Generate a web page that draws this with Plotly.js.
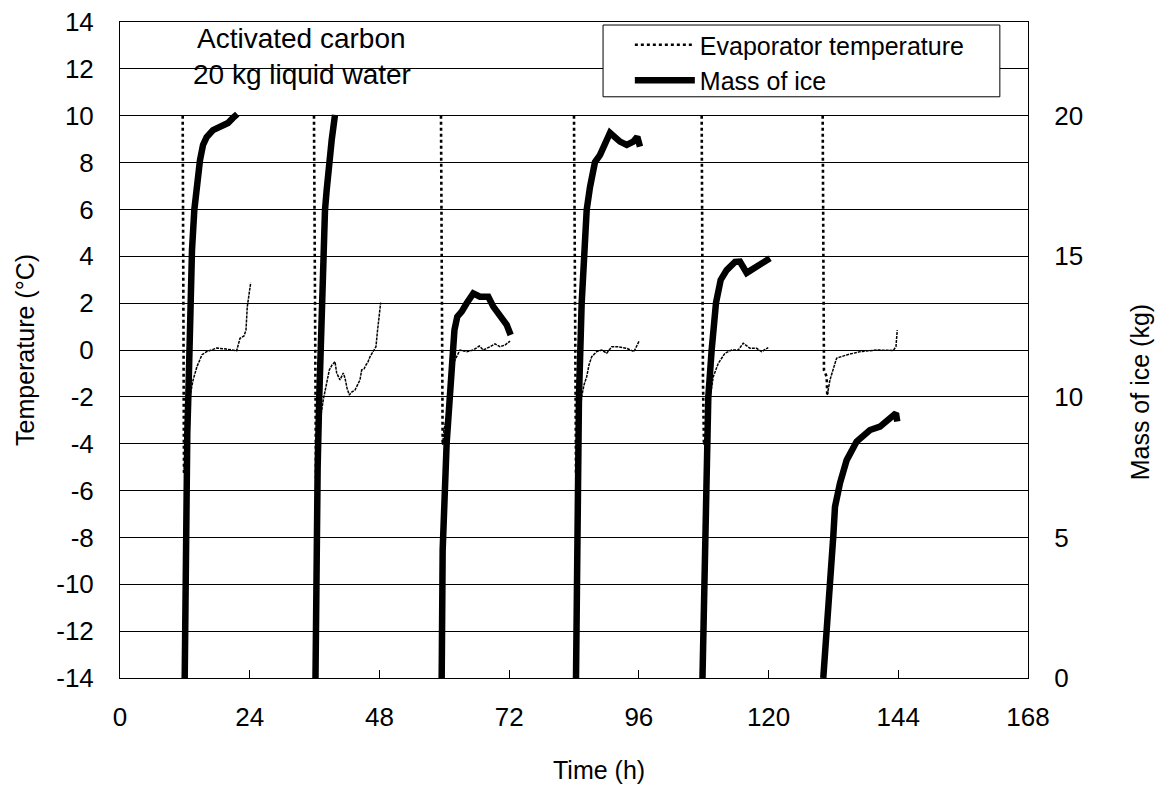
<!DOCTYPE html>
<html>
<head>
<meta charset="utf-8">
<script src="https://cdn.plot.ly/plotly-3.0.1.min.js"></script>
<style>html,body{margin:0;padding:0;background:#fff;}#chart{width:1169px;height:794px;}</style>
</head>
<body>
<div id="chart"></div>
<script>
// Evaporator temperature: steep drop at the start of each cycle (h, °C)
const evapDropTime = [11.60,11.66,11.75,11.84, null,
  35.89,35.95,36.08,36.17,36.26, null,
  59.39,59.48,59.57,59.70, null,
  84.00,84.09,84.18,84.37, null,
  107.62,107.68,107.86,108.05, null,
  130.01,130.07,130.16,130.25,130.75,130.86];
const evapDropTemp = [10.0,2.56,-2.1,-5.25, null,
  10.0,7.68,2.13,-2.13,-5.46, null,
  10.0,4.27,-1.28,-4.05, null,
  10.0,4.27,-1.28,-5.25, null,
  10.0,4.27,-1.28,-4.05, null,
  10.0,4.27,0.85,-0.85,-1.14,-1.92];

// Evaporator temperature: recovery towards the 0 °C plateau (h, °C)
const evapRecTime = [11.84,12.2,12.58,12.95,13.5,14.25,15.17,16.04,17.89,19.6,21.59,22.2,22.94,23.31,23.55,24.18, null,
  36.26,36.82,37.19,37.61,38.11,38.73,39.23,39.78,40.09,40.7,41.31,41.63,42.0,42.42,42.92,43.48,44.03,44.4,44.72,45.14,45.51,45.88,46.25,46.81,47.36,47.6,47.97,48.23, null,
  59.70,59.94,60.44,60.87,61.24,61.66,62.29,62.9,64.14,65.36,66.48,67.22,68.46,69.38,70.31,71.23,72.16, null,
  84.37,84.74,85.11,85.42,85.85,86.35,86.77,87.27,88.2,89.12,90.05,90.97,92.19,93.75,95.1,96.08, null,
  108.05,108.54,108.97,109.34,109.77,110.69,111.93,113.17,114.39,115.32,116.56,117.8,118.72,119.94, null,
  130.86,131.36,132.29,132.6,134.45,136.91,140.0,143.07,143.57,143.81];
const evapRecTemp = [-5.25,-3.8,-2.8,-2.0,-1.3,-0.7,-0.2,-0.07,0.08,0.04,-0.03,0.5,0.6,0.85,1.85,2.87, null,
  -5.46,-3.84,-2.77,-2.13,-1.49,-0.85,-0.64,-0.5,-0.98,-1.28,-0.98,-1.2,-1.62,-1.92,-1.79,-1.71,-1.45,-1.28,-0.85,-0.81,-0.64,-0.51,-0.29,-0.04,0.14,0.73,1.58,2.02, null,
  -4.05,-3.41,-2.85,-2.13,-1.28,-0.57,-0.29,0.0,-0.07,0.0,0.17,0.0,0.14,0.26,0.14,0.21,0.38, null,
  -5.25,-3.84,-2.77,-1.99,-1.49,-1.14,-0.64,-0.29,-0.07,0.0,-0.14,0.14,0.14,0.07,-0.07,0.4, null,
  -4.05,-3.27,-2.35,-1.71,-1.14,-0.57,-0.14,0.0,0.0,0.29,0.07,0.07,-0.07,0.1, null,
  -1.92,-1.28,-0.57,-0.35,-0.21,-0.07,0.0,-0.02,0.14,0.85];

// Mass of ice (h, kg)
const iceTime = [11.97,12.03,12.21,12.45,12.64,12.95,13.32,13.75,14.25,14.8,15.36,16.04,17.21,18.5,19.98,20.9,21.7, null,
  36.17,36.26,36.57,36.87,37.32,37.61,37.93,38.24,38.67,39.17,39.78, null,
  59.52,59.7,60.44,60.92,61.48,61.88,62.4,63.22,64.14,65.36,66.6,68.14,69.07,70.31,71.55,72.28, null,
  84.37,84.65,84.92,85.42,86.35,86.96,87.88,88.8,89.73,90.66,92.51,93.75,94.97,95.71,96.21, null,
  107.77,108.05,108.42,108.85,109.47,110.27,111.14,112.25,113.79,114.71,115.95,117.8,118.97,120.26, null,
  130.12,130.62,131.36,131.97,132.29,133.21,134.45,136.3,138.76,140.61,142.46,143.57,143.81];
const iceMass = [0,2.77,6.33,8.71,10.0,13.45,15.22,16.65,17.71,18.42,18.96,19.24,19.49,19.6,19.74,19.92,20.06, null,
  0,2.77,7.5,10.0,13.34,15.22,16.65,17.36,18.32,19.14,20.03, null,
  0,4.55,8.36,10.0,11.67,12.38,12.85,13.03,13.33,13.68,13.56,13.56,13.21,12.91,12.56,12.2, null,
  0,4.91,10.0,13.34,16.65,17.46,18.35,18.6,19.03,19.39,19.08,18.96,19.08,19.25,18.9, null,
  0,3.49,8.36,10.0,11.67,13.34,14.16,14.51,14.8,14.81,14.41,14.63,14.73,14.93, null,
  0,1.71,3.37,5.03,6.09,6.93,7.75,8.41,8.82,8.94,9.29,9.42,9.12];

const xTicks = [0,24,48,72,96,120,144,168];
const yTicks = [-14,-12,-10,-8,-6,-4,-2,0,2,4,6,8,10,12,14];
const yTickText = ['-14','-12','-10','-8','-6','-4','-2','0','2','4','6','8','10','12','14'];
const y2Ticks = [0,5,10,15,20];

const FONT = 'Liberation Sans, Arial, sans-serif';

const traces = [
  {x: evapDropTime, y: evapDropTemp, mode: 'lines', name: 'Evaporator temperature',
   line: {color: '#000', width: 2.6, dash: 'dot'}, legendgroup: 'evap', connectgaps: false},
  {x: evapRecTime, y: evapRecTemp, mode: 'lines', name: 'Evaporator temperature', showlegend: false,
   line: {color: '#000', width: 1.5, dash: '3px,1px'}, legendgroup: 'evap', connectgaps: false},
  {x: iceTime, y: iceMass, mode: 'lines', name: 'Mass of ice', yaxis: 'y2',
   line: {color: '#000', width: 6.5}, connectgaps: false}
];

const layout = {
  width: 1169, height: 794,
  paper_bgcolor: '#fff', plot_bgcolor: '#fff',
  margin: {l: 120, r: 141, t: 22, b: 116},
  font: {family: FONT, size: 25, color: '#000'},
  showlegend: true,
  legend: {x: 0.5615, y: 1.0, xanchor: 'left', yanchor: 'top', bgcolor: 'rgba(0,0,0,0)',
           borderwidth: 0, font: {family: FONT, size: 25, color: '#000'}, tracegroupgap: 0, itemwidth: 60},
  xaxis: {range: [0, 168], tickvals: xTicks, ticks: 'inside', ticklen: 8, tickcolor: '#000',
          showline: true, linecolor: '#000', linewidth: 1, mirror: true, showgrid: false, zeroline: false,
          ticklabelstandoff: 16, tickfont: {size: 26}},
  yaxis: {range: [-14, 14], tickvals: yTicks, ticktext: yTickText, ticks: '', showline: true,
          linecolor: '#000', linewidth: 1, showgrid: true, gridcolor: '#000', gridwidth: 1, zeroline: false,
          ticklabelstandoff: 20, tickfont: {size: 26},
          title: {text: 'Temperature (°C)', font: {size: 25}, standoff: 14}},
  yaxis2: {range: [0, 23.3333], tickvals: y2Ticks, overlaying: 'y', side: 'right', ticks: '',
           showline: true, linecolor: '#000', linewidth: 1, showgrid: false, zeroline: false,
           ticklabelstandoff: 20, tickfont: {size: 26}},
  shapes: [
    {type: 'rect', xref: 'paper', yref: 'paper', x0: 0.532, x1: 0.969, y0: 0.886, y1: 0.9954,
     fillcolor: '#fff', line: {color: '#000', width: 1}, layer: 'above'}
  ],
  annotations: [
    {xref: 'paper', yref: 'paper', x: 0.2, y: 0.9745, text: 'Activated carbon', showarrow: false,
     xanchor: 'center', yanchor: 'middle', font: {size: 28}},
    {xref: 'paper', yref: 'paper', x: 0.2, y: 0.9195, text: '20 kg liquid water', showarrow: false,
     xanchor: 'center', yanchor: 'middle', font: {size: 28}},
    {xref: 'paper', yref: 'paper', x: 0.528, y: -0.14, text: 'Time (h)', showarrow: false,
     xanchor: 'center', yanchor: 'middle', font: {size: 25}},
    {xref: 'paper', yref: 'paper', x: 1.123, y: 0.435, text: 'Mass of ice (kg)', showarrow: false,
     textangle: -90, xanchor: 'center', yanchor: 'middle', font: {size: 25}}
  ]
};

Plotly.newPlot('chart', traces, layout, {displayModeBar: false, staticPlot: true});
</script>
</body>
</html>
